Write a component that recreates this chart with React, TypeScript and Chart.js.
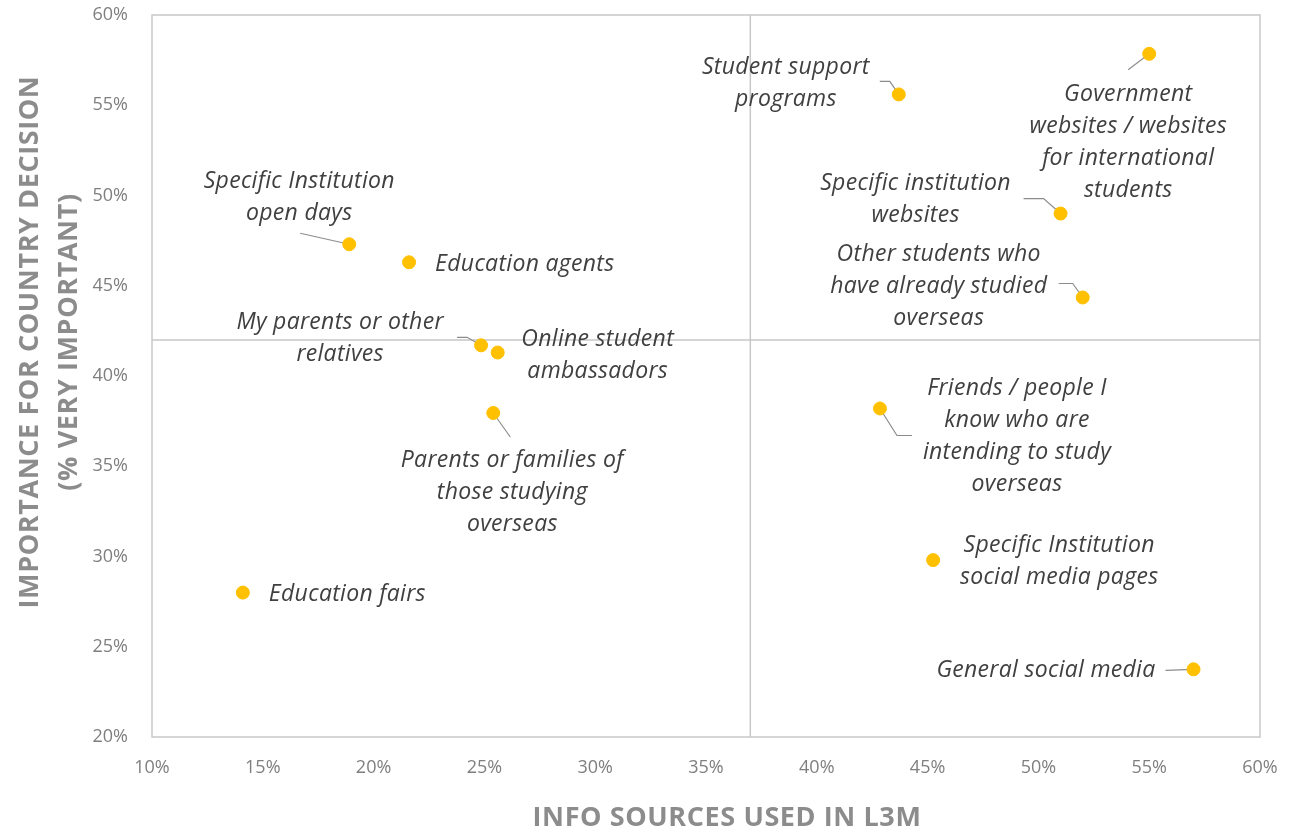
import React, { useEffect, useRef } from "react";
import { Chart, registerables } from "chart.js";

Chart.register(...registerables);

// ---- Data ----
const sources: string[][] = [
  ["Education fairs"],
  ["Specific Institution", "open days"],
  ["Education agents"],
  ["My parents or other", "relatives"],
  ["Online student", "ambassadors"],
  ["Parents or families of", "those studying", "overseas"],
  ["Student support", "programs"],
  ["Government", "websites / websites", "for international", "students"],
  ["Specific institution", "websites"],
  ["Other students who", "have already studied", "overseas"],
  ["Friends / people I", "know who are", "intending to study", "overseas"],
  ["Specific Institution", "social media pages"],
  ["General social media"],
];
const infoSourcesUsed: number[] = [14.1, 18.9, 21.6, 24.85, 25.6, 25.4, 43.7, 55.0, 51.0, 52.0, 42.85, 45.25, 57.0];
const importance: number[] = [28.0, 47.3, 46.3, 41.7, 41.3, 37.95, 55.6, 57.85, 49.0, 44.35, 38.2, 29.8, 23.75];
const xTicks: number[] = [10, 15, 20, 25, 30, 35, 40, 45, 50, 55, 60];
const yTicks: number[] = [20, 25, 30, 35, 40, 45, 50, 55, 60];
const xDivider = 37;
const yDivider = 42;

// ---- Label layout (pixel offsets relative to each point) ----
type Layout = { dx: number; dy: number; align: CanvasTextAlign; leader?: [number, number][] };
const labelLayout: Layout[] = [
  { dx: 26, dy: 2, align: "left" },
  { dx: -50, dy: -63, align: "center", leader: [[-49, -11], [0, 0]] },
  { dx: 26, dy: 2, align: "left" },
  { dx: -141, dy: -23, align: "center", leader: [[-24, -8], [-14, -8], [0, 0]] },
  { dx: 100, dy: -13, align: "center" },
  { dx: 19, dy: 47, align: "center", leader: [[0, 0], [17, 24]] },
  { dx: -113, dy: -27, align: "center", leader: [[-19, -13], [-9, -13], [0, 0]] },
  { dx: -21, dy: 41, align: "center", leader: [[-21, 16], [0, 0]] },
  { dx: -145, dy: -30, align: "center", leader: [[-37, -15], [-17, -15], [0, 0]] },
  { dx: -144, dy: -43, align: "center", leader: [[-24, -14], [-10, -14], [0, 0]] },
  { dx: 137, dy: -20, align: "center", leader: [[0, 0], [17, 27], [32, 27]] },
  { dx: 126, dy: -15, align: "center" },
  { dx: -38, dy: 1, align: "right", leader: [[-28, 1], [0, 0]] },
];

const FONT = "'Open Sans', 'Noto Sans', sans-serif";
const LINE_H = 32;

const overlayPlugin = {
  id: "overlay",
  beforeDatasetsDraw(chart: any) {
    const { ctx, chartArea, scales } = chart;
    ctx.save();
    ctx.strokeStyle = "#c8c8c8";
    ctx.lineWidth = 1.5;
    ctx.strokeRect(chartArea.left, chartArea.top, chartArea.right - chartArea.left, chartArea.bottom - chartArea.top);
    const vx = scales.x.getPixelForValue(xDivider);
    const hy = scales.y.getPixelForValue(yDivider);
    ctx.beginPath();
    ctx.moveTo(vx, chartArea.top);
    ctx.lineTo(vx, chartArea.bottom);
    ctx.moveTo(chartArea.left, hy);
    ctx.lineTo(chartArea.right, hy);
    ctx.stroke();
    const meta = chart.getDatasetMeta(0);
    ctx.strokeStyle = "#8c8c8c";
    ctx.lineWidth = 1.2;
    meta.data.forEach((pt: any, i: number) => {
      const l = labelLayout[i];
      if (!l || !l.leader) return;
      ctx.beginPath();
      l.leader.forEach(([ox, oy], k) => {
        if (k === 0) ctx.moveTo(pt.x + ox, pt.y + oy);
        else ctx.lineTo(pt.x + ox, pt.y + oy);
      });
      ctx.stroke();
    });
    ctx.restore();
  },
  afterDatasetsDraw(chart: any) {
    const { ctx } = chart;
    const meta = chart.getDatasetMeta(0);
    ctx.save();
    ctx.fillStyle = "#404040";
    ctx.font = `italic 23px ${FONT}`;
    (ctx as any).letterSpacing = "0.3px";
    ctx.textBaseline = "middle";
    meta.data.forEach((pt: any, i: number) => {
      const l = labelLayout[i];
      const lines = sources[i];
      ctx.textAlign = l.align;
      lines.forEach((line, k) => {
        ctx.fillText(line, pt.x + l.dx, pt.y + l.dy + k * LINE_H);
      });
    });
    ctx.fillStyle = "#8c8c8c";
    ctx.font = `bold 27px ${FONT}`;
    (ctx as any).letterSpacing = "0.6px";
    ctx.textAlign = "center";
    ctx.fillText("INFO SOURCES USED IN L3M", 727, 818);
    ctx.translate(0, 342);
    ctx.rotate(-Math.PI / 2);
    ctx.fillText("IMPORTANCE FOR COUNTRY DECISION", 0, 30);
    ctx.fillText("(% VERY IMPORTANT)", 0, 69);
    ctx.restore();
  },
};

export default function App() {
  const ref = useRef<HTMLCanvasElement>(null);
  useEffect(() => {
    document.body.style.margin = "0";
    const canvas = ref.current!;
    const chart = new Chart(canvas, {
      type: "scatter",
      data: {
        datasets: [
          {
            data: infoSourcesUsed.map((x, i) => ({ x, y: importance[i] })),
            backgroundColor: "#FFC000",
            borderColor: "#FFC000",
            pointRadius: 6.5,
            pointHoverRadius: 6.5,
          },
        ],
      },
      options: {
        responsive: false,
        animation: false,
        layout: { padding: { top: 15, right: 41, left: 0, bottom: 0 } },
        plugins: { legend: { display: false }, tooltip: { enabled: false } },
        scales: {
          x: {
            type: "linear",
            min: 10,
            max: 60,
            afterBuildTicks: (s: any) => {
              s.ticks = xTicks.map((v) => ({ value: v }));
            },
            afterFit: (s: any) => {
              s.height = 95;
              s.paddingLeft = 0;
              s.paddingRight = 0;
            },
            grid: { display: false, drawTicks: false },
            border: { display: false },
            ticks: {
              padding: 20,
              color: "#7f7f7f",
              font: { family: FONT, size: 18 },
              callback: (v: any) => `${v}%`,
              maxRotation: 0,
            },
          },
          y: {
            type: "linear",
            min: 20,
            max: 60,
            afterBuildTicks: (s: any) => {
              s.ticks = yTicks.map((v) => ({ value: v }));
            },
            afterFit: (s: any) => {
              s.width = 152;
              s.paddingTop = 0;
              s.paddingBottom = 0;
            },
            grid: { display: false, drawTicks: false },
            border: { display: false },
            ticks: {
              padding: 24,
              color: "#7f7f7f",
              font: { family: FONT, size: 18 },
              callback: (v: any) => `${v}%`,
            },
          },
        },
      },
      plugins: [overlayPlugin],
    });
    return () => chart.destroy();
  }, []);
  return <canvas ref={ref} width={1301} height={832} style={{ display: "block" }} />;
}
